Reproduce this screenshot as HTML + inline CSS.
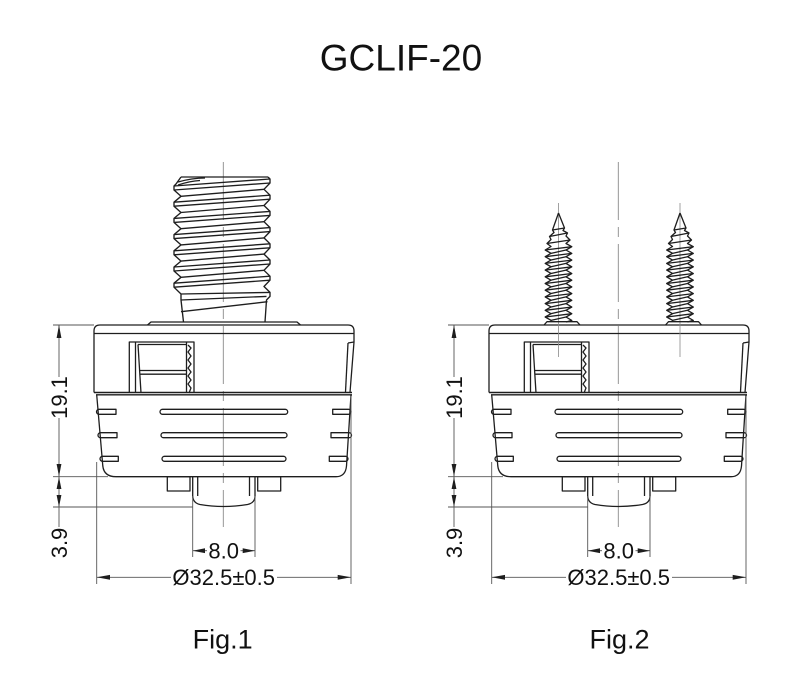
<!DOCTYPE html>
<html>
<head>
<meta charset="utf-8">
<style>
html,body{margin:0;padding:0;background:#fff;}
svg{display:block;}
text{font-family:"Liberation Sans",Arial,sans-serif;fill:#111;}
</style>
</head>
<body>
<svg width="800" height="700" viewBox="0 0 800 700" xmlns="http://www.w3.org/2000/svg">
<rect width="800" height="700" fill="#fff"/>
<defs>
<g id="base">
  <!-- centerline -->
  <line x1="223.3" y1="162" x2="223.3" y2="527" stroke="#8a8a8a" stroke-width="0.9" stroke-dasharray="58,7,10,7"/>
  <g fill="none" stroke="#1e1e1e" stroke-width="1.3" stroke-linejoin="round">
    <!-- cap -->
    <path d="M94,392.5 V331 Q94,325 100,325 H348 Q354,325 354,331 V342 L350,392.5"/>
    <line x1="94" y1="333.5" x2="354" y2="333.5"/>
    <line x1="348" y1="343" x2="345.5" y2="392"/>
    <line x1="348" y1="343" x2="354" y2="342"/>
    <line x1="94" y1="392.5" x2="352" y2="392.5" stroke-width="1.6"/>
    <line x1="96" y1="394.8" x2="352" y2="394.8"/>
    <!-- window -->
    <path d="M129.3,393 V342 H194 V393"/>
    <line x1="135.5" y1="342" x2="135.5" y2="393"/>
    <line x1="138" y1="344.5" x2="141" y2="393"/>
    <line x1="138" y1="344.5" x2="186.5" y2="344.5"/>
    <line x1="140" y1="370.5" x2="186.5" y2="370.5"/>
    <line x1="140.3" y1="374.2" x2="186.5" y2="374.2"/>
    <line x1="186.5" y1="342" x2="186.5" y2="393"/>
    <polyline points="188,345 191,348 188,352 191,356 188,360 191,364 188,368 191,372 188,376 191,380 188,384 191,388 189,393"/>
    <!-- body -->
    <path d="M96.7,394.8 L102.8,466 Q104,476.7 116,476.7 H336 Q345.5,476.7 346.5,466 L351,394.8"/>
    <!-- center slots -->
    <rect x="160" y="409.3" width="127.7" height="5" rx="2.5"/>
    <rect x="161" y="432.7" width="126" height="5" rx="2.5"/>
    <rect x="162" y="456.3" width="124" height="5" rx="2.5"/>
    <!-- side slots -->
    <path d="M116,409.3 H99 A2.5,2.5 0 0 0 99,414.3 H116 Z"/>
    <path d="M117,432.7 H100.5 A2.5,2.5 0 0 0 100.5,437.7 H117 Z"/>
    <path d="M118.3,456.3 H102.5 A2.5,2.5 0 0 0 102.5,461.3 H118.3 Z"/>
    <path d="M332.7,409.3 H348.5 A2.5,2.5 0 0 1 348.5,414.3 H332.7 Z"/>
    <path d="M331,432.7 H349 A2.5,2.5 0 0 1 349,437.7 H331 Z"/>
    <path d="M329.3,456.3 H345.5 A2.5,2.5 0 0 1 345.5,461.3 H329.3 Z"/>
    <!-- bottom tabs & boss -->
    <rect x="167.3" y="476.7" width="22.7" height="14.3"/>
    <rect x="257.7" y="476.7" width="23" height="14.3"/>
    <path d="M192.7,476.7 V496 Q193,503 200,504.5 Q223.3,508.5 247.5,504.5 Q255,503 255,496 V476.7"/>
    <line x1="197.7" y1="476.7" x2="197.7" y2="496"/>
    <line x1="249.5" y1="476.7" x2="249.5" y2="496"/>
  </g>
  <!-- dimensions -->
  <g stroke="#555" stroke-width="0.9" fill="none">
    <line x1="53" y1="325" x2="94" y2="325"/>
    <line x1="53" y1="476.7" x2="108" y2="476.7"/>
    <line x1="53" y1="507" x2="193" y2="507"/>
    <line x1="59" y1="325" x2="59" y2="377"/>
    <line x1="59" y1="418" x2="59" y2="527"/>
    <line x1="96.7" y1="462" x2="96.7" y2="584"/>
    <line x1="351" y1="396" x2="351" y2="584"/>
    <line x1="192.7" y1="496" x2="192.7" y2="557"/>
    <line x1="255" y1="496" x2="255" y2="557"/>
    <line x1="192.7" y1="550.7" x2="207" y2="550.7"/>
    <line x1="240.5" y1="550.7" x2="255" y2="550.7"/>
    <line x1="96.7" y1="577.3" x2="171" y2="577.3"/>
    <line x1="277" y1="577.3" x2="351" y2="577.3"/>
  </g>
  <g fill="#1e1e1e">
    <polygon points="59,325 56.6,338 61.4,338"/>
    <polygon points="59,476.5 56.6,464 61.4,464"/>
    <polygon points="59,477 56.6,489 61.4,489"/>
    <polygon points="59,507 56.6,495 61.4,495"/>
    <polygon points="192.7,550.7 205,548.3 205,553.1"/>
    <polygon points="255,550.7 242.7,548.3 242.7,553.1"/>
    <polygon points="96.7,577.3 110,574.9 110,579.7"/>
    <polygon points="351,577.3 337.7,574.9 337.7,579.7"/>
  </g>
</g>
<g id="screw">
  <line x1="558.5" y1="203" x2="558.5" y2="357" stroke="#8a8a8a" stroke-width="0.8"/>
  <g fill="none" stroke="#1e1e1e" stroke-width="1.3" stroke-linejoin="round">
    <path d="M558.5,213 L552.5,230 L554,232.5 L549.5,236.5 L551,239.5 L547,243.5 L551,246.5 L545.2,250 L551,253.35 L545.2,256.7 L551,260.05 L545.2,263.4 L551,266.75 L545.2,270.1 L551,273.45 L545.2,276.8 L551,280.15 L545.2,283.5 L551,286.85 L545.2,290.2 L551,293.55 L545.2,296.9 L551,300.25 L545.2,303.6 L551,306.95 L545.2,310.3 L551,313.65 L545.2,317 L551,320.35 L551,322"/>
    <path d="M558.5,213 L564.5,228 L563,230.5 L567.5,233 L566,236 L570,240 L566,243.5 L571.8,246.7 L566,250 L571.8,253.4 L566,256.7 L571.8,260.1 L566,263.4 L571.8,266.8 L566,270.1 L571.8,273.5 L566,276.8 L571.8,280.2 L566,283.5 L571.8,286.9 L566,290.2 L571.8,293.6 L566,296.9 L571.8,300.3 L566,303.6 L571.8,307 L566,310.3 L571.8,313.7 L566,317 L571.8,320.4 L566,322"/>
    <path d="M552.5,230 L564.5,228 M549.5,236.5 L567.5,233 M547,243.5 L570,240 M545.2,250 L571.8,246.7 M545.2,256.7 L571.8,253.4 M545.2,263.4 L571.8,260.1 M545.2,270.1 L571.8,266.8 M545.2,276.8 L571.8,273.5 M545.2,283.5 L571.8,280.2 M545.2,290.2 L571.8,286.9 M545.2,296.9 L571.8,293.6 M545.2,303.6 L571.8,300.3 M545.2,310.3 L571.8,307 M545.2,317 L571.8,313.7"/>
    <path d="M551,253.35 L566,250 M551,260.05 L566,256.7 M551,266.75 L566,263.4 M551,273.45 L566,270.1 M551,280.15 L566,276.8 M551,286.85 L566,283.5 M551,293.55 L566,290.2 M551,300.25 L566,296.9 M551,306.95 L566,303.6 M551,313.65 L566,310.3 M551,320.35 L566,317"/>
    <path d="M544,325 L547,321.7 H577 L580,325"/>
  </g>
</g>
</defs>

<use href="#base"/>
<use href="#base" transform="translate(395,0)"/>

<!-- Fig.1 bolt -->
<g fill="none" stroke="#1e1e1e" stroke-width="1.35" stroke-linejoin="round">
  <path d="M147.5,325 L151,322 H297 L300.5,325"/>
  <path d="M181,177 H268"/>
  <path d="M181,177 L176,184 L174,186 L174,190 L181,196.3 L174,202.2 L174,206.2 L181,212.5 L174,218.4 L174,222.4 L181,228.7 L174,234.6 L174,238.6 L181,244.9 L174,250.8 L174,254.8 L181,261.1 L174,267 L174,271 L181,277.3 L174,283.2 L174,287.2 L181,294 L181,300 L183.5,322"/>
  <path d="M268,177 L270,179 L270,183 L264,189.3 L270,195.2 L270,199.2 L264,205.5 L270,211.4 L270,215.4 L264,221.7 L270,227.6 L270,231.6 L264,237.9 L270,243.8 L270,247.8 L264,254.1 L270,260 L270,264 L264,270.3 L270,276.2 L270,280.2 L264,286.5 L270,292.4 L270,296.4 L266.5,300 L265,322"/>
  <path d="M174,186 L270,179 M174,190 L270,183 M174,202.2 L270,195.2 M174,206.2 L270,199.2 M174,218.4 L270,211.4 M174,222.4 L270,215.4 M174,234.6 L270,227.6 M174,238.6 L270,231.6 M174,250.8 L270,243.8 M174,254.8 L270,247.8 M174,267 L270,260 M174,271 L270,264 M174,283.2 L270,276.2 M174,287.2 L270,280.2"/>
  <path d="M181,196.3 L264,189.3 M181,212.5 L264,205.5 M181,228.7 L264,221.7 M181,244.9 L264,237.9 M181,261.1 L264,254.1 M181,277.3 L264,270.3 M181,294 L270,292.4 M181,300 L266.5,296.4 M181,311.7 L267.5,301.7"/>
  <path d="M178,182 Q192,178 205,178 M178,185 Q190,181 200,180.5"/>
</g>

<!-- Fig.2 screws -->
<use href="#screw"/>
<use href="#screw" transform="translate(121.5,0)"/>

<!-- texts -->
<text x="401" y="70.5" font-size="37" text-anchor="middle">GCLIF-20</text>

<text transform="translate(66.8,397.5) rotate(-90)" font-size="22" text-anchor="middle">19.1</text>
<text transform="translate(66.8,543) rotate(-90)" font-size="22" text-anchor="middle">3.9</text>
<text x="223.7" y="558.5" font-size="22" text-anchor="middle">8.0</text>
<text x="223.7" y="584.8" font-size="22" text-anchor="middle">Ø32.5±0.5</text>

<text transform="translate(461.8,397.5) rotate(-90)" font-size="22" text-anchor="middle">19.1</text>
<text transform="translate(461.8,543) rotate(-90)" font-size="22" text-anchor="middle">3.9</text>
<text x="618.7" y="558.5" font-size="22" text-anchor="middle">8.0</text>
<text x="618.7" y="584.8" font-size="22" text-anchor="middle">Ø32.5±0.5</text>

<text x="222.7" y="648.3" font-size="27" text-anchor="middle">Fig.1</text>
<text x="619.5" y="648.3" font-size="27" text-anchor="middle">Fig.2</text>
</svg>
</body>
</html>
